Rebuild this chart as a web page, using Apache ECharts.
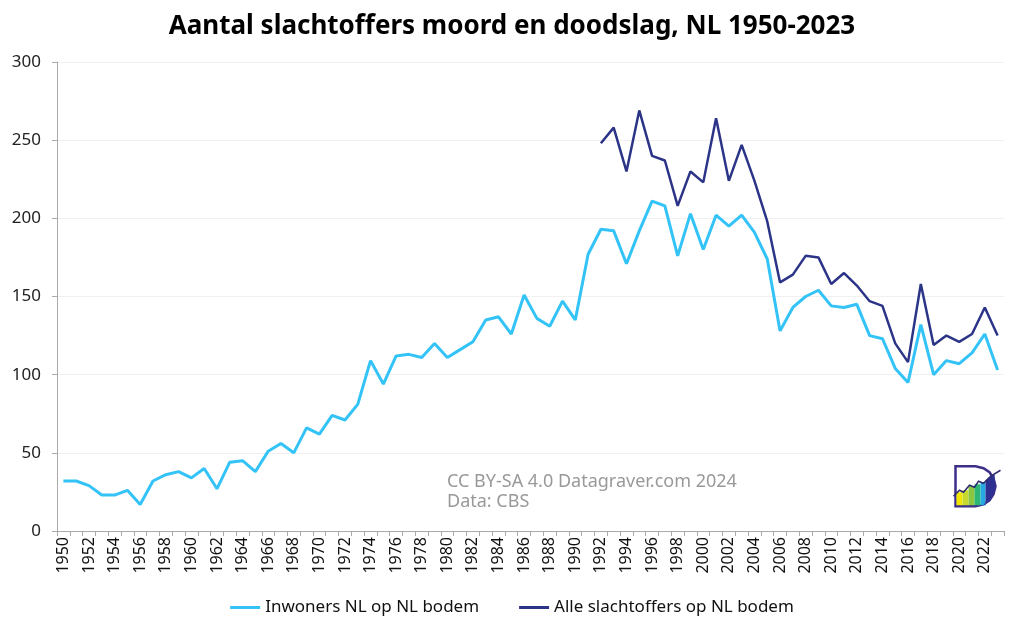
<!DOCTYPE html>
<html>
<head>
<meta charset="utf-8">
<script src="https://cdn.jsdelivr.net/npm/echarts@6/dist/echarts.min.js"></script>
<style>html,body{margin:0;padding:0;background:#fff}#c{width:1024px;height:633px}</style>
</head>
<body>
<div id="c"></div>
<script>
const years = [];
for (let y = 1950; y <= 2023; y++) years.push(String(y));

const inwoners = [32,32,29,23,23,26,17,32,36,38,34,40,27,44,45,38,51,56,50,66,
  62,74,71,81,109,94,112,113,111,120,111,116,121,135,137,126,151,136,131,147,
  135,177,193,192,171,192,211,208,176,203,180,202,195,202,191,174,128,143,150,154,
  144,143,145,125,123,104,95,132,100,109,107,114,126,103];

const alle = [null,null,null,null,null,null,null,null,null,null,
  null,null,null,null,null,null,null,null,null,null,
  null,null,null,null,null,null,null,null,null,null,
  null,null,null,null,null,null,null,null,null,null,
  null,null,248,258,230,269,240,237,208,230,223,264,224,247,224,198,159,164,176,175,
  158,165,157,147,144,120,108,158,119,125,121,126,143,125];

const yTicks = [0, 50, 100, 150, 200, 250, 300];

const FONT = '"Noto Sans", "Open Sans", sans-serif';
const chart = echarts.init(document.getElementById('c'), null, {renderer: 'canvas'});
chart.setOption({
  animation: false,
  backgroundColor: '#fff',
  title: {
    text: 'Aantal slachtoffers moord en doodslag, NL 1950-2023',
    left: 'center', top: 9,
    textStyle: {fontFamily: FONT, fontWeight: 'bold', fontSize: 26, color: '#000'}
  },
  legend: {
    bottom: 12, left: 'center', itemGap: 40, itemWidth: 30, itemHeight: 3,
    icon: 'rect',
    textStyle: {fontFamily: FONT, fontSize: 17, color: '#111'},
    data: ['Inwoners NL op NL bodem', 'Alle slachtoffers op NL bodem']
  },
  grid: {left: 57, right: 20, top: 62, bottom: 102, containLabel: false},
  xAxis: {
    type: 'category', data: years, boundaryGap: true,
    axisLine: {lineStyle: {color: '#aaa', width: 1}},
    axisTick: {show: true, interval: 0, length: 5, lineStyle: {color: '#aaa'}},
    axisLabel: {interval: 1, rotate: 90, fontFamily: FONT, fontSize: 16, color: '#111', margin: 6}
  },
  yAxis: {
    type: 'value', min: yTicks[0], max: yTicks[yTicks.length-1], interval: 50,
    axisLine: {show: true, lineStyle: {color: '#aaa', width: 1}},
    axisTick: {show: true, length: 5, lineStyle: {color: '#aaa'}},
    splitLine: {lineStyle: {color: '#f0f0f0', width: 1}},
    axisLabel: {fontFamily: FONT, fontSize: 17, color: '#222', margin: 16}
  },
  series: [
    {name: 'Inwoners NL op NL bodem', type: 'line', data: inwoners, symbol: 'none',
     lineStyle: {color: '#33C3F7', width: 3}, itemStyle: {color: '#33C3F7'}},
    {name: 'Alle slachtoffers op NL bodem', type: 'line', data: alle, symbol: 'none',
     connectNulls: false,
     lineStyle: {color: '#2B3487', width: 2.5}, itemStyle: {color: '#2B3487'}}
  ],
  graphic: [
    {type: 'text', left: 447, top: 472, style: {text: 'CC BY-SA 4.0 Datagraver.com 2024\nData: CBS',
      fontFamily: FONT, fontSize: 18, fill: '#999', lineHeight: 20}},
    {type: 'group', left: 951, top: 465, children: [
      {type: 'polygon', shape: {points: [[2,2],[22,2],[30,4],[36,8],[40,14],[42,22],[40,30],[36,36],[30,40],[22,42],[2,42]]},
       style: {fill: '#fff', stroke: '#3b2f8a', lineWidth: 2.5}},
      {type: 'rect', shape: {x: 3, y: 28, width: 6, height: 13}, style: {fill: '#f2e600'}},
      {type: 'rect', shape: {x: 9, y: 26, width: 6, height: 15}, style: {fill: '#c6d92e'}},
      {type: 'rect', shape: {x: 15, y: 22, width: 6, height: 19}, style: {fill: '#8cc63f'}},
      {type: 'rect', shape: {x: 21, y: 20, width: 6, height: 21}, style: {fill: '#2bb673'}},
      {type: 'rect', shape: {x: 27, y: 18, width: 5, height: 23}, style: {fill: '#27aae1'}},
      {type: 'polygon', shape: {points: [[32,16],[41,10],[42,22],[40,30],[36,36],[30,40],[32,41]]}, style: {fill: '#2e3192'}},
      {type: 'polyline', shape: {points: [[0,32],[6,26],[10,28],[16,21],[21,23],[25,17],[30,19],[37,12],[47,6]]},
       style: {stroke: '#2b2b6e', lineWidth: 1.5, fill: 'none'}}
    ]}
  ]
});
</script>
</body>
</html>
